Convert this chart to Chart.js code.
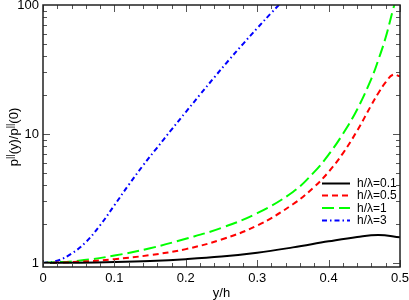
<!DOCTYPE html>
<html>
<head>
<meta charset="utf-8">
<script src="https://cdn.jsdelivr.net/npm/chart.js@4.4.1/dist/chart.umd.min.js"></script>
<style>
  html, body { margin: 0; padding: 0; background: #fff; }
  #wrap { width: 409px; height: 300px; }
</style>
</head>
<body>
<div id="wrap"><canvas id="chart" width="409" height="300"></canvas></div>
<script>
// values: y/h along x, p(y)/p(0) on a log axis
const blackX = [0, 0.05, 0.1, 0.15, 0.2, 0.25, 0.3, 0.35, 0.4, 0.44, 0.47, 0.5];
const blackY = [1, 1.005, 1.017, 1.037, 1.07, 1.12, 1.2, 1.32, 1.47, 1.59, 1.65, 1.58];

const redX = [0, 0.05, 0.1, 0.15, 0.2, 0.25, 0.3, 0.35, 0.38, 0.4, 0.42, 0.44, 0.46, 0.47, 0.48, 0.49, 0.5];
const redY = [1, 1.02, 1.07, 1.15, 1.28, 1.52, 1.95, 2.85, 3.89, 5.08, 7.08, 10.6, 16.8, 20.9, 25.2, 28.8, 28];

const greenX = [0, 0.05, 0.1, 0.15, 0.2, 0.25, 0.3, 0.35, 0.38, 0.4, 0.42, 0.44, 0.46, 0.47, 0.48, 0.49, 0.5];
const greenY = [1, 1.04, 1.14, 1.3, 1.54, 1.87, 2.43, 3.55, 5.08, 6.92, 10.0, 15.5, 26.9, 38.0, 56.2, 91.2, 144.5];

const blueX = [0, 0.02, 0.04, 0.06, 0.08, 0.1, 0.12, 0.14, 0.16, 0.18, 0.2, 0.22, 0.24, 0.26, 0.28, 0.3, 0.32, 0.34, 0.36];
const blueY = [1, 1.04, 1.18, 1.45, 1.96, 2.8, 4.03, 5.69, 7.85, 10.8, 14.8, 20.2, 27.5, 37.2, 49.8, 66.1, 87.1, 113.5, 146.2];

const seriesLabels = ['h/\u03bb=0.1', 'h/\u03bb=0.5', 'h/\u03bb=1', 'h/\u03bb=3'];
const xTicks = [0, 0.1, 0.2, 0.3, 0.4, 0.5];
const yTicks = [1, 10, 100];

const FONT = '13px "Liberation Sans", Arial, sans-serif';

function pts(xs, ys) {
    return xs.map((x, i) => ({ x: x, y: ys[i] }));
}

function makeSet(label, xs, ys, color, dash) {
    return {
        label: label,
        data: pts(xs, ys),
        borderColor: color,
        borderWidth: 2,
        borderDash: dash,
        pointRadius: 0,
        fill: false,
        tension: 0.4
    };
}

// frame, inward ticks, labels, titles and the boxed-in legend
const decorPlugin = {
    id: 'decor',
    afterDraw(chart) {
        const ctx = chart.ctx;
        const a = chart.chartArea;
        const xs = chart.scales.x;
        const ys = chart.scales.y;
        ctx.save();

        // ticks
        ctx.strokeStyle = '#555';
        ctx.lineWidth = 1;
        ctx.beginPath();
        for (let i = 0; i <= 25; i++) {
            const v = i * 0.02;
            const px = Math.round(xs.getPixelForValue(v)) + 0.5;
            const len = (i % 5 === 0) ? 7 : 4;
            ctx.moveTo(px, a.bottom); ctx.lineTo(px, a.bottom - len);
            ctx.moveTo(px, a.top); ctx.lineTo(px, a.top + len);
        }
        for (let d = 0; d < 2; d++) {
            for (let m = 1; m <= 9; m++) {
                const v = m * Math.pow(10, d);
                const py = Math.round(ys.getPixelForValue(v)) + 0.5;
                const len = (m === 1) ? 7 : 4;
                ctx.moveTo(a.left, py); ctx.lineTo(a.left + len, py);
                ctx.moveTo(a.right, py); ctx.lineTo(a.right - len, py);
            }
        }
        ctx.stroke();

        // frame
        ctx.strokeStyle = '#222';
        ctx.lineWidth = 1.5;
        ctx.strokeRect(a.left, a.top, a.right - a.left, a.bottom - a.top);

        // tick labels
        ctx.fillStyle = '#000';
        ctx.font = FONT;
        ctx.textAlign = 'center';
        ctx.textBaseline = 'alphabetic';
        xTicks.forEach(v => {
            ctx.fillText(String(v), xs.getPixelForValue(v), 282);
        });
        ctx.textAlign = 'right';
        ctx.textBaseline = 'middle';
        yTicks.forEach(v => {
            ctx.fillText(String(v), a.left - 4, ys.getPixelForValue(v));
        });

        // x title
        ctx.textAlign = 'center';
        ctx.textBaseline = 'alphabetic';
        ctx.fillText('y/h', (a.left + a.right) / 2, 297);

        // y title with superscripts, rotated
        ctx.save();
        ctx.translate(18, 137);
        ctx.rotate(-Math.PI / 2);
        const parts = [['p', false], ['||', true], ['(y)/p', false], ['||', true], ['(0)', false]];
        const supFont = '9px "Liberation Sans", Arial, sans-serif';
        let total = 0;
        parts.forEach(p => {
            ctx.font = p[1] ? supFont : FONT;
            total += ctx.measureText(p[0]).width;
        });
        let cx = -total / 2;
        ctx.textAlign = 'left';
        parts.forEach(p => {
            ctx.font = p[1] ? supFont : FONT;
            ctx.fillText(p[0], cx, p[1] ? -5 : 0);
            cx += ctx.measureText(p[0]).width;
        });
        ctx.restore();

        // legend
        const rows = [183.5, 195.5, 208, 220.5];
        ctx.font = '12px "Liberation Sans", Arial, sans-serif';
        ctx.textAlign = 'left';
        ctx.textBaseline = 'middle';
        chart.data.datasets.forEach((ds, i) => {
            ctx.strokeStyle = ds.borderColor;
            ctx.lineWidth = 2;
            ctx.setLineDash(ds.borderDash || []);
            ctx.beginPath();
            ctx.moveTo(322, rows[i]);
            ctx.lineTo(350, rows[i]);
            ctx.stroke();
            ctx.setLineDash([]);
            ctx.fillStyle = '#000';
            ctx.fillText(seriesLabels[i], 357, rows[i] + 0.5);
        });

        ctx.restore();
    }
};

new Chart(document.getElementById('chart'), {
    type: 'line',
    data: {
        datasets: [
            makeSet(seriesLabels[0], blackX, blackY, '#000000', []),
            makeSet(seriesLabels[1], redX, redY, '#ff0000', [6, 4]),
            makeSet(seriesLabels[2], greenX, greenY, '#00ff00', [12, 5]),
            makeSet(seriesLabels[3], blueX, blueY, '#0000ff', [5, 3, 1.5, 3])
        ]
    },
    options: {
        responsive: false,
        animation: false,
        devicePixelRatio: 1,
        layout: { padding: { left: 43, right: 9, top: 5, bottom: 33 } },
        plugins: {
            legend: { display: false },
            tooltip: { enabled: false }
        },
        scales: {
            x: { type: 'linear', min: 0, max: 0.5, display: false },
            y: { type: 'logarithmic', min: 0.93, max: 100, display: false }
        }
    },
    plugins: [decorPlugin]
});
</script>
</body>
</html>
